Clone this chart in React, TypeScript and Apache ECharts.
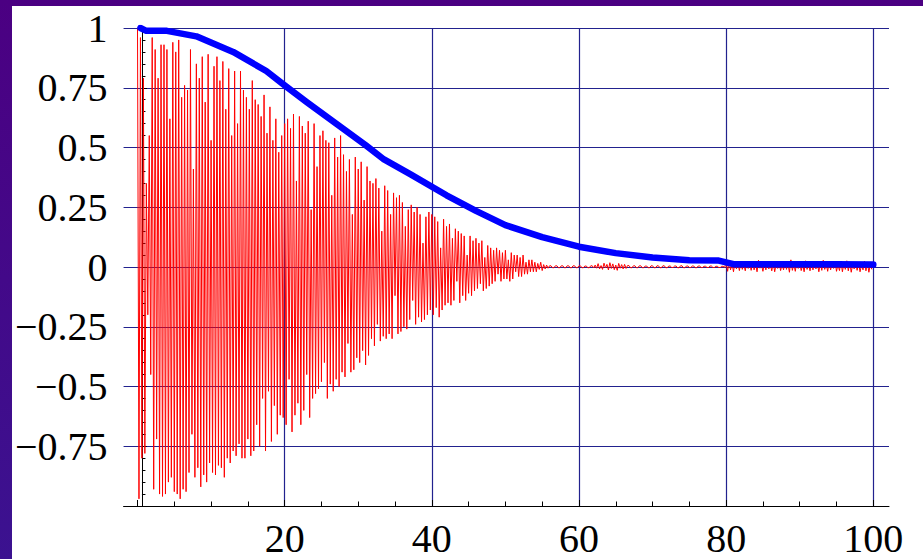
import React, { useEffect, useRef } from "react";
import * as echarts from "echarts";

// Sampled oscillating signal (red), one value every SAMPLE_STEP along x.
const SAMPLE_STEP = 0.2;
const signal: number[] = [
  1.0, -0.97, 0.96, -0.8, 0.79, -0.78, 0.35, -0.2, 0.55, -0.45,
  0.96, -0.93, 0.91, -0.72, 0.79, -0.95, 0.93, -0.96, 0.93, -0.95,
  0.91, -0.9, 0.62, -0.88, 0.94, -0.94, 0.9, -0.95, 0.95, -0.97,
  0.71, -0.93, 0.76, -0.94, 0.74, -0.86, 0.91, -0.7, 0.41, -0.88,
  0.85, -0.84, 0.79, -0.92, 0.88, -0.87, 0.69, -0.9, 0.89, -0.82,
  0.53, -0.86, 0.84, -0.87, 0.88, -0.83, 0.78, -0.84, 0.86, -0.88,
  0.66, -0.8, 0.83, -0.82, 0.55, -0.77, 0.82, -0.79, 0.6, -0.74,
  0.82, -0.8, 0.74, -0.8, 0.71, -0.72, 0.66, -0.79, 0.78, -0.77,
  0.7, -0.66, 0.68, -0.75, 0.63, -0.55, 0.72, -0.77, 0.56, -0.52,
  0.67, -0.73, 0.53, -0.58, 0.62, -0.7, 0.48, -0.62, 0.55, -0.63,
  0.6, -0.66, 0.62, -0.47, 0.58, -0.69, 0.64, -0.62, 0.36, -0.57,
  0.63, -0.66, 0.59, -0.6, 0.56, -0.45, 0.61, -0.63, 0.24, -0.55,
  0.6, -0.53, 0.42, -0.51, 0.55, -0.48, 0.57, -0.4, 0.53, -0.55,
  0.52, -0.49, 0.3, -0.52, 0.54, -0.47, 0.46, -0.5, 0.55, -0.44,
  0.47, -0.46, 0.4, -0.32, 0.45, -0.44, 0.22, -0.43, 0.46, -0.38,
  0.41, -0.4, 0.44, -0.35, 0.28, -0.41, 0.42, -0.37, 0.36, -0.3,
  0.35, -0.33, 0.37, -0.24, 0.33, -0.31, 0.15, -0.29, 0.34, -0.3,
  0.32, -0.28, 0.22, -0.3, 0.31, -0.12, 0.29, -0.28, 0.3, -0.27,
  0.27, -0.25, 0.17, -0.26, 0.24, -0.22, 0.26, -0.14, 0.23, -0.24,
  0.25, -0.21, 0.22, -0.23, 0.1, -0.22, 0.21, -0.2, 0.23, -0.18,
  0.22, -0.2, 0.21, -0.17, 0.19, -0.21, 0.08, -0.18, 0.2, -0.16,
  0.17, -0.15, 0.18, -0.16, 0.12, -0.14, 0.16, -0.06, 0.15, -0.15,
  0.14, -0.12, 0.13, -0.14, 0.05, -0.11, 0.13, -0.12, 0.11, -0.1,
  0.12, -0.09, 0.1, -0.07, 0.11, -0.1, 0.04, -0.09, 0.09, -0.08,
  0.08, -0.07, 0.07, -0.06, 0.08, -0.03, 0.07, -0.06, 0.06, -0.05,
  0.07, -0.05, 0.03, -0.06, 0.06, -0.05, 0.05, -0.02, 0.05, -0.04,
  0.04, -0.04, 0.05, -0.03, 0.02, -0.03, 0.03, -0.02, 0.03, -0.02,
  0.02, -0.02, 0.015, -0.01, 0.02, -0.015, 0.01, -0.008, 0.008, -0.005,
  0.005, 0.005, -0.003, -0.003, 0.005, 0.005, -0.003, -0.003, 0.005, 0.005,
  -0.003, -0.003, 0.005, 0.005, -0.003, -0.003, 0.005, 0.005, -0.003, -0.003,
  0.005, 0.005, -0.003, -0.003, 0.004, 0.004, -0.003, -0.003, 0.005, 0.005,
  -0.004, 0.008, -0.005, 0.014, -0.008, 0.006, -0.01, 0.016, -0.004, 0.011,
  -0.012, 0.018, -0.006, 0.013, -0.011, 0.008, -0.014, 0.015, -0.005, 0.01,
  -0.008, 0.011, -0.006, 0.006, 0.006, -0.003, -0.003, 0.005, 0.005, -0.003,
  -0.003, 0.005, 0.005, -0.003, -0.003, 0.004, 0.004, -0.003, -0.003, 0.005,
  0.005, -0.003, -0.003, 0.005, 0.005, -0.003, -0.003, 0.005, 0.005, -0.003,
  -0.003, 0.004, 0.004, -0.002, -0.002, 0.004, 0.004, -0.003, -0.003, 0.005,
  0.005, -0.003, -0.003, 0.004, 0.004, -0.002, -0.002, 0.004, 0.004, -0.003,
  -0.003, 0.004, 0.004, -0.002, -0.002, 0.003, 0.003, -0.002, -0.002, 0.004,
  0.004, -0.002, -0.002, 0.003, 0.003, -0.002, -0.002, 0.003, 0.003, -0.002,
  0.02, -0.018, 0.025, -0.012, 0.015, -0.02, 0.022, -0.008, 0.018, -0.015,
  0.02, -0.01, 0.012, -0.016, 0.024, -0.006, 0.015, -0.014, 0.02, -0.012,
  0.015, -0.02, 0.028, -0.005, 0.01, -0.018, 0.02, -0.012, 0.025, -0.008,
  0.012, -0.016, 0.018, -0.02, 0.014, -0.006, 0.022, -0.015, 0.01, -0.012,
  0.02, -0.01, 0.016, -0.022, 0.03, -0.014, 0.012, -0.018, 0.024, -0.006,
  0.018, -0.015, 0.01, -0.02, 0.026, -0.01, 0.015, -0.016, 0.02, -0.012,
  0.022, -0.008, 0.014, -0.02, 0.018, -0.014, 0.028, -0.01, 0.012, -0.018,
  0.02, -0.012, 0.016, -0.006, 0.024, -0.018, 0.01, -0.015, 0.022, -0.02,
  0.014, -0.01, 0.026, -0.016, 0.018, -0.022, 0.012, -0.008, 0.02, -0.014,
  0.016, -0.02, 0.01, -0.012, 0.024, -0.016, 0.018, -0.022, 0.012, -0.01,
];

// Decay envelope (blue), sampled at irregular x positions.
const envelopeX = [0.4, 1.2, 4, 8, 13, 17.5, 20, 23, 27, 31, 33.5, 37, 42, 46, 50, 55, 60, 65, 70, 75, 79, 81, 85, 90, 95, 100];
const envelopeY = [1.0, 0.988, 0.988, 0.965, 0.9, 0.82, 0.76, 0.69, 0.6, 0.51, 0.45, 0.39, 0.3, 0.235, 0.175, 0.125, 0.085, 0.058, 0.04, 0.028, 0.027, 0.012, 0.012, 0.012, 0.012, 0.01];

// Axis tick labels
const X_TICKS = [20, 40, 60, 80, 100];
const X_TICK_LABELS = ["20", "40", "60", "80", "100"];
const Y_TICKS = [-0.75, -0.5, -0.25, 0, 0.25, 0.5, 0.75, 1];
const Y_TICK_LABELS = ["\u22120.75", "\u22120.5", "\u22120.25", "0", "0.25", "0.5", "0.75", "1"];

const GRID_COLOR = "#22228e";
const LABEL_FONT = "'Liberation Serif', 'Times New Roman', serif";

function lookup(ticks: number[], labels: string[], v: number): string {
  const k = ticks.findIndex((t) => Math.abs(t - v) < 1e-9);
  return k >= 0 ? labels[k] : "";
}

export default function App() {
  const ref = useRef<HTMLDivElement>(null);

  useEffect(() => {
    if (!ref.current) return;
    const chart = echarts.init(ref.current, undefined, { renderer: "svg" });

    const signalData = signal.map((v, i) => [i * SAMPLE_STEP, v]);
    const envelopeData = envelopeX.map((x, i) => [x, envelopeY[i]]);

    chart.setOption({
      animation: false,
      backgroundColor: "#ffffff",
      grid: [
        // outer frame: horizontal grid lines, y axis and bottom axis line
        { left: 108, right: 34, top: 22, bottom: 53 },
        // data frame: x from 0 to 100
        { left: 125.5, right: 49.7, top: 22, bottom: 53 },
      ],
      xAxis: [
        {
          type: "value",
          gridIndex: 0,
          min: -2.51,
          max: 101.97,
          axisLine: { show: true, onZero: false, lineStyle: { color: "#000", width: 1 } },
          axisTick: { show: false },
          axisLabel: { show: false },
          splitLine: { show: false },
        },
        {
          type: "value",
          gridIndex: 1,
          min: 0,
          max: 100,
          interval: 20,
          axisLine: { show: true, onZero: false, lineStyle: { color: "#000", width: 1 } },
          axisTick: { show: true, inside: true, length: 6, lineStyle: { color: "#000", width: 1 } },
          minorTick: { show: true, splitNumber: 4, length: 4.5, lineStyle: { color: "#000", width: 1 } },
          axisLabel: {
            show: true,
            margin: 12,
            fontFamily: LABEL_FONT,
            fontSize: 40,
            color: "#000",
            formatter: (v: number) => lookup(X_TICKS, X_TICK_LABELS, v),
          },
          splitLine: {
            show: true,
            showMinLine: false,
            lineStyle: { color: GRID_COLOR, width: 1.2 },
          },
        },
      ],
      yAxis: [
        {
          type: "value",
          gridIndex: 0,
          min: -1,
          max: 1,
          interval: 0.25,
          axisLine: { show: true, onZero: true, onZeroAxisIndex: 0, lineStyle: { color: "#000", width: 1 } },
          axisTick: { show: true, inside: true, length: 5, lineStyle: { color: "#000", width: 1 } },
          minorTick: { show: true, splitNumber: 5, length: 3.5, lineStyle: { color: "#000", width: 1 } },
          axisLabel: {
            show: true,
            margin: 16,
            fontFamily: LABEL_FONT,
            fontSize: 40,
            color: "#000",
            formatter: (v: number) => lookup(Y_TICKS, Y_TICK_LABELS, v),
          },
          splitLine: {
            show: true,
            showMinLine: false,
            lineStyle: { color: GRID_COLOR, width: 1.2 },
          },
        },
        {
          type: "value",
          gridIndex: 1,
          min: -1,
          max: 1,
          show: false,
        },
      ],
      series: [
        {
          type: "line",
          xAxisIndex: 1,
          yAxisIndex: 1,
          data: signalData,
          symbol: "none",
          showSymbol: false,
          smooth: false,
          lineStyle: { color: "#ff0000", width: 1 },
          z: 3,
        },
        {
          type: "line",
          xAxisIndex: 1,
          yAxisIndex: 1,
          data: envelopeData,
          symbol: "none",
          showSymbol: false,
          smooth: false,
          lineStyle: { color: "#0000ff", width: 6.5, cap: "round", join: "round" },
          z: 4,
        },
      ],
    });

    return () => chart.dispose();
  }, []);

  return (
    <div
      style={{
        position: "fixed",
        left: 0,
        top: 0,
        width: 923,
        height: 559,
        background: "linear-gradient(to bottom, #4b0082, #3b1290)",
        overflow: "hidden",
      }}
    >
      <div
        ref={ref}
        style={{
          position: "absolute",
          left: 12,
          top: 6,
          width: 911,
          height: 553,
          background: "#ffffff",
        }}
      />
    </div>
  );
}
